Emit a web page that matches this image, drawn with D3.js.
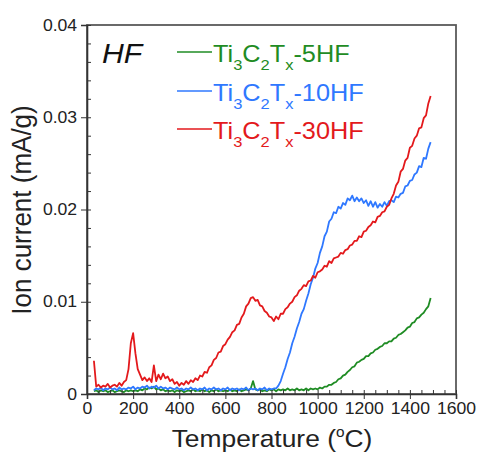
<!DOCTYPE html>
<html>
<head>
<meta charset="utf-8">
<script src="https://cdn.jsdelivr.net/npm/d3@7"></script>
<style>
  html, body { margin: 0; padding: 0; background: #fff; }
  svg { display: block; font-family: "Liberation Sans", Arial, sans-serif; }
</style>
</head>
<body>
<svg id="chart" width="477" height="453"></svg>
<script>
// ---------------- DATA ----------------
// Temperature grid (°C)
const temperature = [
  30,40,50,60,70,80,90,100,110,120,130,140,150,160,170,180,190,200,210,220,
  230,240,250,260,270,280,290,300,310,320,330,340,350,360,370,380,390,400,410,420,
  430,440,450,460,470,480,490,500,510,520,530,540,550,560,570,580,590,600,610,620,
  630,640,650,660,670,680,690,700,710,720,730,740,750,760,770,780,790,800,810,820,
  830,840,850,860,870,880,890,900,910,920,930,940,950,960,970,980,990,1000,1010,1020,
  1030,1040,1050,1060,1070,1080,1090,1100,1110,1120,1130,1140,1150,1160,1170,1180,1190,1200,1210,1220,
  1230,1240,1250,1260,1270,1280,1290,1300,1310,1320,1330,1340,1350,1360,1370,1380,1390,1400,1410,1420,
  1430,1440,1450,1460,1470,1480,1490
];
// Ion current values, in units of 1e-4 mA/g
const UNIT = 1e-4;
const current5HF = [
  3,4,2,4,3,4,2,3,4,2,3,4,3,2,4,3,4,3,4,3,
  5,4,6,5,7,6,8,5,6,4,5,3,4,3,4,2,4,3,4,2,
  3,4,3,5,3,4,3,5,3,4,2,4,3,5,3,4,3,4,3,5,
  3,4,3,5,3,4,5,4,6,14,5,4,5,3,4,3,5,4,5,3,
  5,4,5,4,6,4,5,4,6,4,5,4,6,4,6,5,6,5,7,6,
  8,8,10,10,12,13,16,17,20,21,24,26,29,30,34,35,37,38,41,41,
  44,45,48,49,51,52,55,55,57,57,60,61,64,65,67,69,72,73,77,78,
  82,83,86,88,92,95,104
];
const current10HF = [
  4,6,5,7,4,6,5,7,5,6,4,7,5,6,5,7,6,8,5,7,
  6,8,7,9,6,8,7,9,6,8,6,7,5,7,6,5,7,5,6,4,
  6,5,7,5,6,4,6,5,7,4,6,5,7,5,6,4,6,5,7,4,
  6,5,6,4,6,5,7,4,6,5,6,4,6,5,7,4,6,5,6,6,
  9,14,22,29,38,45,55,62,71,78,87,92,101,109,119,126,136,142,153,160,
  171,176,187,190,197,196,203,201,207,205,212,210,215,209,213,209,212,207,210,204,
  209,203,208,202,206,203,208,204,209,210,208,214,213,217,218,225,226,231,232,238,
  240,247,246,256,255,266,273
];
const current30HF = [
  36,8,10,7,9,8,11,7,9,10,8,12,9,13,15,27,55,66,44,27,
  21,15,18,14,17,13,31,14,21,16,22,17,19,14,16,11,13,9,12,10,
  14,11,15,13,17,15,20,19,24,23,29,31,37,39,45,46,52,54,59,62,
  67,69,75,76,83,87,95,98,104,105,101,102,96,95,90,88,84,83,79,84,
  81,87,87,92,94,98,100,105,107,112,114,118,117,122,123,128,126,132,133,135,
  139,138,144,142,147,148,149,153,152,156,157,161,162,166,166,171,170,176,177,181,
  183,187,186,192,193,197,198,203,205,212,217,226,230,241,244,253,256,267,269,277,
  280,288,289,299,302,315,323
];
const seriesNames = ["5HF", "10HF", "30HF"];
const seriesColors = ["#1f8c24", "#2f78ff", "#e3191c"];
const xTicks = [0, 200, 400, 600, 800, 1000, 1200, 1400, 1600];
const yTicks = [0, 0.01, 0.02, 0.03, 0.04];

// ---------------- LAYOUT ----------------
const plot = { left: 87, right: 456, top: 25, bottom: 394 };
const SX = 1.1; // horizontal stretch of text as in the original figure

const svg = d3.select("#chart");
const x = d3.scaleLinear().domain([0, 1600]).range([plot.left, plot.right]);
const y = d3.scaleLinear().domain([0, 0.04]).range([plot.bottom, plot.top]);

// frame
svg.append("rect")
  .attr("x", plot.left).attr("y", plot.top)
  .attr("width", plot.right - plot.left).attr("height", plot.bottom - plot.top)
  .attr("fill", "none").attr("stroke", "#5a5a5a").attr("stroke-width", 1.8);

// lines
const allSeries = [current5HF, current10HF, current30HF];
const line = d3.line()
  .x((d, i) => x(temperature[i]))
  .y(d => y(d * UNIT));
allSeries.forEach((vals, k) => {
  svg.append("path")
    .datum(vals)
    .attr("fill", "none")
    .attr("stroke", seriesColors[k])
    .attr("stroke-width", 1.8)
    .attr("stroke-linejoin", "round")
    .attr("d", line);
});

// axes
const axisColor = "#333";
// X minor (inward)
svg.append("g").attr("transform", `translate(0,${plot.bottom})`)
  .call(d3.axisBottom(x).tickValues(d3.range(0, 1601, 50)).tickSize(-4).tickFormat(""))
  .call(g => g.select(".domain").remove())
  .call(g => g.selectAll("line").attr("stroke", axisColor));
// X major
svg.append("g").attr("transform", `translate(0,${plot.bottom})`)
  .call(d3.axisBottom(x).tickValues(xTicks).tickSize(5).tickPadding(4).tickFormat(d3.format("d")))
  .call(g => g.select(".domain").attr("stroke", axisColor).attr("stroke-width", 1.6))
  .call(g => g.selectAll("line").attr("stroke", axisColor))
  .call(g => g.selectAll("text")
    .attr("fill", "#222").style("font-size", "16px")
    .attr("transform", `scale(${SX},1)`));
// Y minor (inward)
svg.append("g").attr("transform", `translate(${plot.left},0)`)
  .call(d3.axisLeft(y).tickValues(d3.range(0, 0.0401, 0.002)).tickSize(-4).tickFormat(""))
  .call(g => g.select(".domain").remove())
  .call(g => g.selectAll("line").attr("stroke", axisColor));
// Y major
svg.append("g").attr("transform", `translate(${plot.left},0)`)
  .call(d3.axisLeft(y).tickValues(yTicks).tickSize(6).tickPadding(3)
    .tickFormat(d => d === 0 ? "0" : d3.format(".2f")(d)))
  .call(g => g.select(".domain").attr("stroke", axisColor).attr("stroke-width", 1.6))
  .call(g => g.selectAll("line").attr("stroke", axisColor))
  .call(g => g.selectAll("text")
    .attr("fill", "#222").style("font-size", "16px")
    .attr("transform", `scale(${SX},1)`));

// axis titles
const xt = svg.append("g").attr("transform", `translate(272,447) scale(1.1,1)`)
  .append("text").attr("text-anchor", "middle").attr("fill", "#222")
  .style("font-size", "24px");
xt.append("tspan").text("Temperature (");
xt.append("tspan").attr("dy", -10).style("font-size", "14px").text("o");
xt.append("tspan").attr("dy", 10).text("C)");

svg.append("g").attr("transform", `translate(31,210) rotate(-90) scale(1,1.08)`)
  .append("text").attr("text-anchor", "middle").attr("fill", "#222")
  .style("font-size", "26px").text("Ion current (mA/g)");

// "HF" label
svg.append("g").attr("transform", `translate(102,63) scale(1.12,1)`)
  .append("text").attr("fill", "#111").style("font-size", "27px")
  .style("font-style", "italic").text("HF");

// legend
const legendY = [52, 91, 129];
seriesNames.forEach((name, k) => {
  const ly = legendY[k];
  svg.append("line")
    .attr("x1", 177).attr("x2", 212).attr("y1", ly).attr("y2", ly)
    .attr("stroke", seriesColors[k]).attr("stroke-width", 1.6);
  const t = svg.append("g").attr("transform", `translate(213,${ly + 10}) scale(${SX},1)`)
    .append("text").attr("fill", seriesColors[k]).style("font-size", "23px");
  t.append("tspan").text("Ti");
  t.append("tspan").attr("dy", 8).style("font-size", "15px").text("3");
  t.append("tspan").attr("dy", -8).text("C");
  t.append("tspan").attr("dy", 8).style("font-size", "15px").text("2");
  t.append("tspan").attr("dy", -8).text("T");
  t.append("tspan").attr("dy", 8).style("font-size", "15px").text("x");
  t.append("tspan").attr("dy", -8).text("-" + name);
});
</script>
</body>
</html>
